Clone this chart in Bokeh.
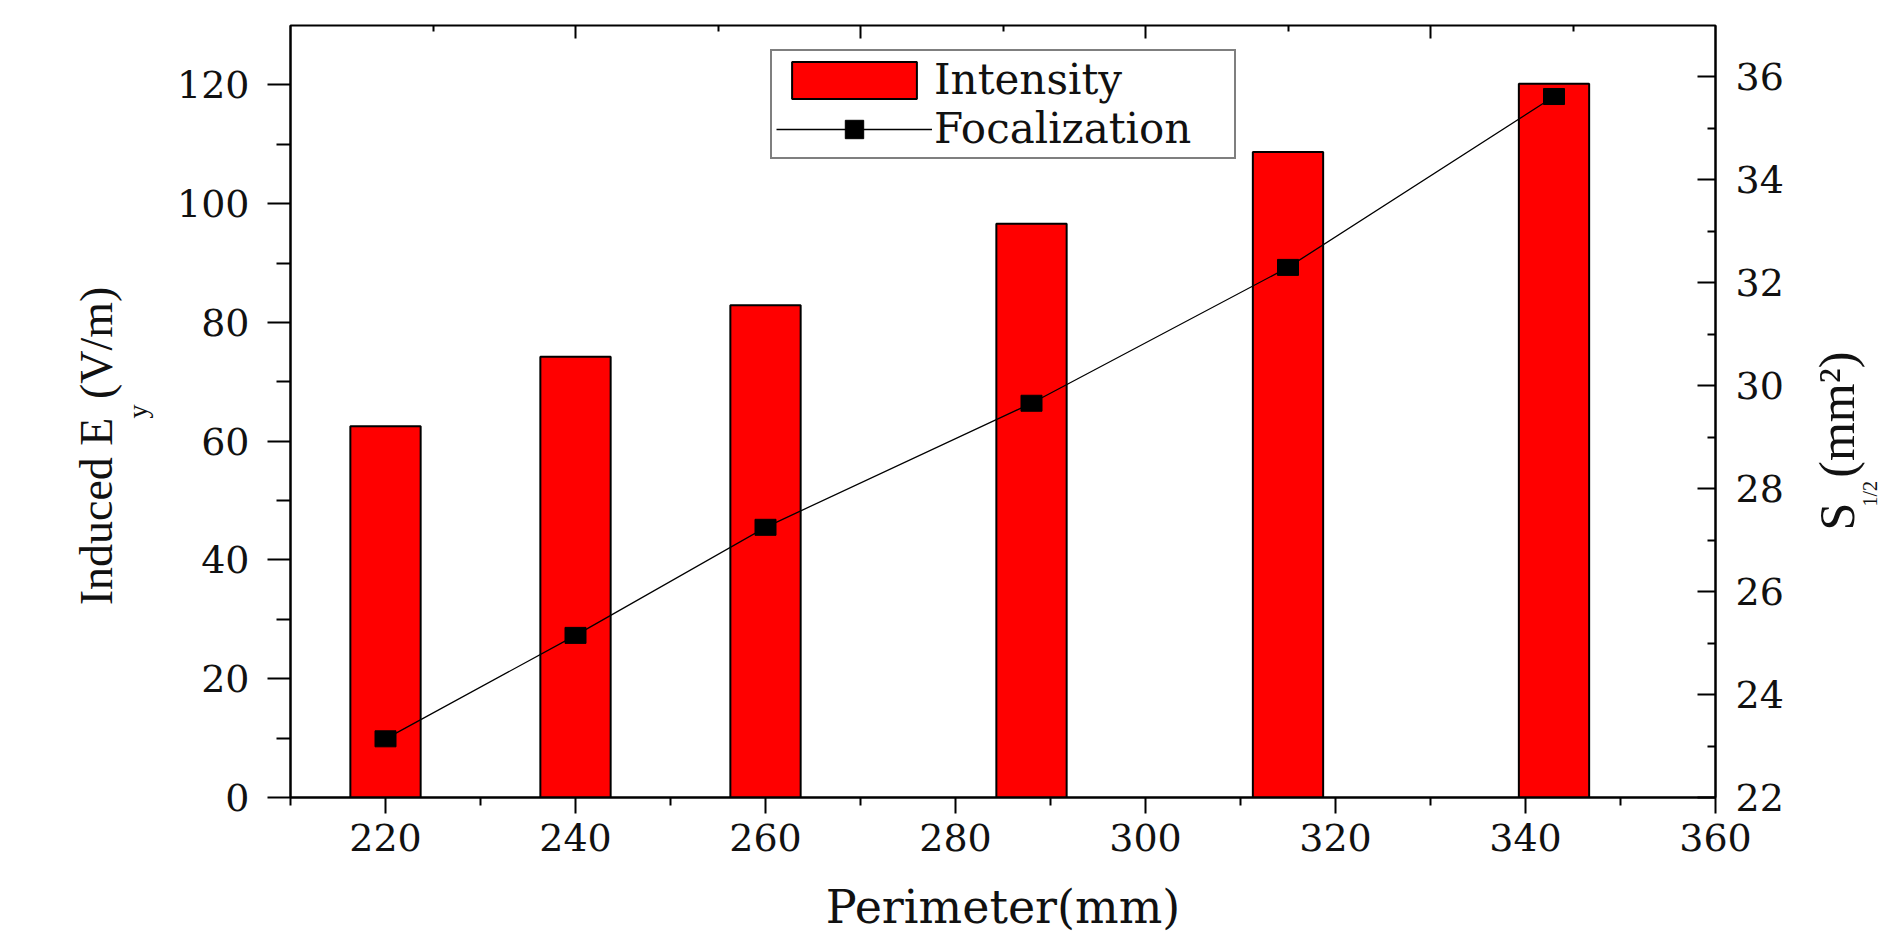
import math
from bokeh.plotting import figure
from bokeh.models import Range1d, LinearAxis, FixedTicker, Legend, LegendItem
from bokeh.embed import file_html
from bokeh.resources import INLINE

# ---- data ----
perimeter = [220, 240, 260, 288, 315, 343]
intensity = [62.5, 74.2, 82.9, 96.6, 108.7, 120.2]
focalization = [23.14, 25.15, 27.25, 29.66, 32.30, 35.62]

x_major = [220, 240, 260, 280, 300, 320, 340, 360]
x_minor = [210, 230, 250, 270, 290, 310, 330, 350]
top_major = [240, 270, 300, 330]
top_minor = [225, 255, 285, 315, 345]
left_major = [0, 20, 40, 60, 80, 100, 120]
left_minor = [10, 30, 50, 70, 90, 110]
right_major = [22, 24, 26, 28, 30, 32, 34, 36]
right_minor = [23, 25, 27, 29, 31, 33, 35]

X0, X1 = 210, 360
Y0, Y1 = 0, 130
R0, R1 = 22, 37

W, H = 1895, 936
BL, BR, BT, BB = 290, 180, 25, 139
FH = H - BT - BB

TICK_FONT = "DejaVu Serif"
TITLE_FONT = "Liberation Serif"
INK = "#111111"

p = figure(width=W, height=H, x_range=Range1d(X0, X1), y_range=Range1d(Y0, Y1),
           output_backend="svg", toolbar_location=None,
           min_border_left=BL, min_border_right=BR, min_border_top=BT, min_border_bottom=BB)
# "right" = S1/2 scale; "px" = pixel offsets from the frame bottom, used to place title pieces
p.extra_y_ranges = {"right": Range1d(R0, R1), "px": Range1d(0, FH)}
p.xgrid.visible = False
p.ygrid.visible = False
p.outline_line_color = "black"
p.outline_line_width = 2
p.background_fill_color = "white"
p.border_fill_color = "white"


def style_axis(ax):
    ax.axis_line_color = "black"
    ax.axis_line_width = 2
    ax.major_tick_line_color = "black"
    ax.major_tick_line_width = 2
    ax.minor_tick_line_color = "black"
    ax.minor_tick_line_width = 2
    ax.major_label_text_font = TICK_FONT
    ax.major_label_text_font_size = "38px"
    ax.major_label_text_color = INK
    ax.axis_label_text_font_style = "normal"
    ax.axis_label_text_color = INK


def bare_axis(ticks=(), **kw):
    ax = LinearAxis(ticker=FixedTicker(ticks=list(ticks), minor_ticks=[]), **kw)
    ax.axis_line_color = None
    ax.major_tick_in = 0
    ax.major_tick_out = 0
    ax.minor_tick_in = 0
    ax.minor_tick_out = 0
    ax.major_label_standoff = 0
    ax.axis_label_text_font_style = "normal"
    ax.axis_label_text_color = INK
    return ax


# bottom axis + x title
xa = p.xaxis[0]
xa.ticker = FixedTicker(ticks=x_major, minor_ticks=x_minor)
style_axis(xa)
xa.major_tick_out = 16
xa.major_tick_in = 0
xa.minor_tick_out = 8
xa.minor_tick_in = 0
xa.major_label_standoff = 10
xa.axis_label = "Perimeter(mm)"
xa.axis_label_text_font = TICK_FONT
xa.axis_label_text_font_size = "46px"
xa.axis_label_standoff = 26

# left axis; its own label is the subscript "y" of E_y
ya = p.yaxis[0]
ya.ticker = FixedTicker(ticks=left_major, minor_ticks=left_minor)
style_axis(ya)
ya.major_tick_out = 23
ya.major_tick_in = 0
ya.minor_tick_out = 14
ya.minor_tick_in = 0
ya.major_label_standoff = 18
ya.axis_label = "y"
ya.axis_label_text_font = TITLE_FONT
ya.axis_label_text_font_size = "28px"
ya.axis_label_standoff = 21

# left title main text (outer column)
lt = bare_axis(axis_label="Induced E\u2009\u2009(V/m)\u2003\u2002")
lt.axis_label_text_font = TITLE_FONT
lt.axis_label_text_font_size = "46px"
lt.axis_label_standoff = -3
p.add_layout(lt, "left")

# right axis
ra = LinearAxis(y_range_name="right", ticker=FixedTicker(ticks=right_major, minor_ticks=right_minor))
style_axis(ra)
ra.major_tick_in = 18
ra.major_tick_out = 0
ra.minor_tick_in = 8
ra.minor_tick_out = 0
ra.major_label_standoff = 20
p.add_layout(ra, "right")

# right title S_1/2(mm^2), read bottom to top: placed as single tick labels on bare axes
S_START = 267      # px above the frame bottom where "S" begins
SUB_START = 291    # px above the frame bottom where the subscript begins
rt = bare_axis(ticks=[S_START], y_range_name="px")
rt.major_label_overrides = {S_START: "S\u2002(mm\u00b2)"}
rt.major_label_orientation = math.pi / 2
rt.major_label_text_font = TITLE_FONT
rt.major_label_text_font_size = "50px"
rt.major_label_text_color = INK
rt.major_label_standoff = 50
p.add_layout(rt, "right")

rs = bare_axis(ticks=[SUB_START], y_range_name="px")
rs.major_label_overrides = {SUB_START: "1/2"}
rs.major_label_orientation = math.pi / 2
rs.major_label_text_font = TITLE_FONT
rs.major_label_text_font_size = "20px"
rs.major_label_text_color = INK
rs.major_label_standoff = -26
p.add_layout(rs, "right")

# top axis: ticks only, pointing inward
for ticks, length in ((top_major, 13), (top_minor, 6)):
    ta = bare_axis()
    ta.ticker = FixedTicker(ticks=[], minor_ticks=ticks)
    ta.minor_tick_in = length
    ta.minor_tick_line_color = "black"
    ta.minor_tick_line_width = 2
    p.add_layout(ta, "above")

bars = p.vbar(x=perimeter, top=intensity, bottom=0, width=7.4,
              fill_color="#ff0000", line_color="black", line_width=2)
line_r = p.line(perimeter, focalization, y_range_name="right",
                line_color="black", line_width=1.3)
p.rect(perimeter, focalization, width=21, height=16, width_units="screen",
       height_units="screen", y_range_name="right", fill_color="black", line_color="black")
legend_marker = p.scatter(x=[float("nan")], y=[float("nan")], y_range_name="right",
                          marker="square", size=16, fill_color="black", line_color="black")

legend = Legend(items=[LegendItem(label="Intensity", renderers=[bars]),
                       LegendItem(label="Focalization", renderers=[line_r, legend_marker])],
                location=(770 - BL, BT + FH - 159),
                glyph_width=156, glyph_height=46, label_standoff=2, label_width=296,
                padding=4, spacing=0, margin=0,
                label_text_font=TICK_FONT, label_text_font_size="42px",
                label_text_color=INK,
                border_line_color="black", border_line_width=2,
                background_fill_color="white", background_fill_alpha=1)
p.add_layout(legend)

open("out.html", "w").write(file_html(p, INLINE))
